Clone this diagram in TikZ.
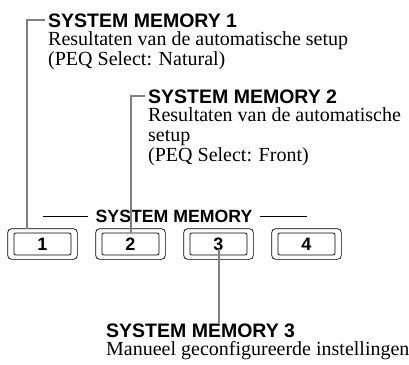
\documentclass[tikz,border=0pt]{standalone}
\usepackage{fontspec}
\setmainfont{Liberation Serif}
\setsansfont{Liberation Sans}
\usepackage{tikz}
\usetikzlibrary{calc,positioning}

\begin{document}
\begin{tikzpicture}[x=1pt,y=-1pt,
    leader/.style={draw=black!50,line width=2pt},
    memtitle/.style={inner sep=0pt,font=\sffamily\bfseries\fontsize{19.5}{20}\selectfont},
    memtext/.style={inner sep=0pt,align=left,font=\fontsize{20}{20}\selectfont},
    memkey/.style={draw,rounded corners=2pt,line width=0.7pt,minimum width=57pt,minimum height=22pt,
      inner sep=0pt,font=\sffamily\bfseries\fontsize{18}{18}\selectfont},
    keyframe/.style={draw,rounded corners=4pt,line width=0.7pt}]
  \useasboundingbox (0,0) rectangle (409,364);
  \node[memkey] (k1) at (42.5,244) {1};
  \node[memkey] (k2) at (130.5,244) {2};
  \node[memkey] (k3) at (218.5,244) {3};
  \node[memkey] (k4) at (306.5,244) {4};
  \draw[keyframe] ([xshift=-6pt,yshift=4pt]k1.north west) rectangle ([xshift=6pt,yshift=-4pt]k1.south east);
  \draw[keyframe] ([xshift=-6pt,yshift=4pt]k2.north west) rectangle ([xshift=6pt,yshift=-4pt]k2.south east);
  \draw[keyframe] ([xshift=-6pt,yshift=4pt]k3.north west) rectangle ([xshift=6pt,yshift=-4pt]k3.south east);
  \draw[keyframe] ([xshift=-6pt,yshift=4pt]k4.north west) rectangle ([xshift=6pt,yshift=-4pt]k4.south east);
  \node[font=\sffamily\bfseries\fontsize{17.7}{18}\selectfont,inner ysep=0pt,inner xsep=7pt] (grp) at (174,216) {SYSTEM MEMORY};
  \draw[line width=0.7pt] (grp.west) -- (grp.west -| k1.center);
  \draw[line width=0.7pt] (grp.east) -- (grp.east -| k4.center);

  \node[memtitle,anchor=base west] (m1) at (48,27) {SYSTEM MEMORY 1};
  \node[memtext,anchor=north west,yshift=-4pt] (d1) at (m1.south west)
    {Resultaten van de automatische setup\\(PEQ Select: Natural)};
  \node[memtitle,anchor=base west] (m2) at (148,103) {SYSTEM MEMORY 2};
  \node[memtext,anchor=north west,yshift=-4pt] (d2) at (m2.south west)
    {Resultaten van de automatische\\setup\\(PEQ Select: Front)};
  \node[memtitle,anchor=base west] (m3) at (106,337) {SYSTEM MEMORY 3};
  \node[memtext,anchor=north west,yshift=-4pt] (d3) at (m3.south west)
    {Manueel geconfigureerde instellingen};

  \draw[leader] ([xshift=-15.5pt,yshift=4pt]k1.north) |- ([xshift=-3pt]m1.west);
  \draw[leader] (k2.north) |- ([xshift=-3pt]m2.west);
  \draw[leader] ([yshift=-5pt]k3.center) -- (k3.center |- m3.north);
\end{tikzpicture}
\end{document}
